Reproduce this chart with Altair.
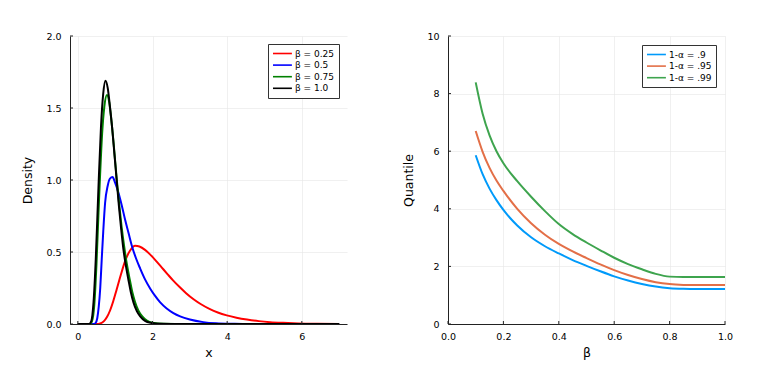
import altair as alt
import pandas as pd

# ---------------- Left panel: densities ----------------
beta_labels = ["β = 0.25", "β = 0.5", "β = 0.75", "β = 1.0"]
beta_colors = ["#FF0000", "#0000FF", "#008000", "#000000"]

x_red = [0, 0.5, 0.6, 0.7, 0.78, 0.86, 0.95, 1.04, 1.15, 1.27, 1.4, 1.535, 1.65, 1.8, 1.94, 2.1, 2.25,
         2.4, 2.55, 2.74, 2.9, 3.1, 3.3, 3.54, 3.75, 3.99, 4.25, 4.53, 4.85, 5.15, 5.5, 5.9, 6.4, 7.0]
y_red = [0, 0, 0.004, 0.02, 0.048, 0.092, 0.16, 0.24, 0.34, 0.44, 0.51, 0.543, 0.538, 0.515, 0.482, 0.437, 0.392,
         0.347, 0.303, 0.253, 0.214, 0.172, 0.137, 0.103, 0.080, 0.060, 0.044, 0.031, 0.020, 0.013, 0.008, 0.004, 0.0015, 0.0]

x_blue = [0, 0.42, 0.47, 0.52, 0.56, 0.60, 0.64, 0.68, 0.73, 0.8, 0.86, 0.93, 1.0, 1.09, 1.18, 1.27, 1.36, 1.45,
          1.56, 1.67, 1.8, 1.94, 2.07, 2.2, 2.38, 2.56, 2.74, 3.0, 3.36, 3.7, 4.2, 4.6, 7.0]
y_blue = [0, 0, 0.005, 0.04, 0.12, 0.25, 0.45, 0.64, 0.84, 0.96, 1.01, 1.02, 0.98, 0.91, 0.82, 0.72, 0.63, 0.54,
          0.455, 0.385, 0.31, 0.245, 0.195, 0.152, 0.108, 0.076, 0.053, 0.031, 0.013, 0.005, 0.0012, 0, 0]

x_green = [0, 0.32, 0.38, 0.44, 0.50, 0.55, 0.59, 0.65, 0.71, 0.78, 0.84, 0.90, 0.97, 1.04, 1.1, 1.17, 1.24,
           1.31, 1.39, 1.46, 1.53, 1.62, 1.72, 1.85, 2.0, 2.3, 2.6, 7.0]
y_green = [0, 0, 0.02, 0.13, 0.42, 0.75, 1.0, 1.32, 1.51, 1.59, 1.54, 1.41, 1.22, 1.01, 0.85, 0.68, 0.54,
           0.42, 0.31, 0.22, 0.155, 0.095, 0.055, 0.024, 0.009, 0.001, 0, 0]

x_black = [0, 0.30, 0.36, 0.42, 0.48, 0.52, 0.56, 0.62, 0.68, 0.74, 0.80, 0.86, 0.92, 0.98, 1.04, 1.1, 1.16,
           1.22, 1.29, 1.36, 1.42, 1.49, 1.58, 1.67, 1.8, 1.95, 2.2, 2.5, 7.0]
y_black = [0, 0, 0.02, 0.15, 0.45, 0.72, 1.0, 1.37, 1.6, 1.69, 1.64, 1.51, 1.36, 1.18, 1.0, 0.82, 0.66,
           0.52, 0.4, 0.3, 0.22, 0.15, 0.09, 0.053, 0.022, 0.008, 0.001, 0, 0]

left_x_ticks = [0, 2, 4, 6]
left_y_ticks = [0, 0.5, 1.0, 1.5, 2.0]

# ---------------- Right panel: quantiles ----------------
level_labels = ["1-α = .9", "1-α = .95", "1-α = .99"]
level_colors = ["#009AFA", "#E36F47", "#3EA44E"]
beta_vals = [0.1, 0.125, 0.15, 0.175, 0.2, 0.25, 0.3, 0.35, 0.4, 0.45, 0.5, 0.55, 0.6, 0.65, 0.7, 0.75, 0.8, 0.85, 0.9, 1.0]
q90 = [5.86, 5.20, 4.70, 4.30, 3.96, 3.42, 3.01, 2.70, 2.45, 2.22, 2.02, 1.83, 1.655, 1.51, 1.39, 1.30, 1.245, 1.222, 1.215, 1.215]
q95 = [6.70, 5.98, 5.42, 4.98, 4.62, 4.00, 3.50, 3.10, 2.78, 2.52, 2.29, 2.07, 1.87, 1.70, 1.56, 1.45, 1.385, 1.358, 1.35, 1.35]
q99 = [8.39, 7.30, 6.55, 6.00, 5.58, 4.96, 4.42, 3.92, 3.47, 3.12, 2.83, 2.56, 2.30, 2.08, 1.90, 1.74, 1.645, 1.63, 1.63, 1.63]

right_x_ticks = [0.0, 0.2, 0.4, 0.6, 0.8, 1.0]
right_y_ticks = [0, 2, 4, 6, 8, 10]

W, H = 277, 288
FONT = "DejaVu Sans"
TICK_COLOR = "#222222"

# Build tables
left_rows = []
for lab, xs, ys in zip(beta_labels, [x_red, x_blue, x_green, x_black], [y_red, y_blue, y_green, y_black]):
    for a, b in zip(xs, ys):
        left_rows.append({"x": a, "density": b, "series": lab})
df_left = pd.DataFrame(left_rows)

right_rows = []
for lab, qs in zip(level_labels, [q90, q95, q99]):
    for a, b in zip(beta_vals, qs):
        right_rows.append({"beta": a, "quantile": b, "level": lab})
df_right = pd.DataFrame(right_rows)


def legend(offset):
    return alt.Legend(
        title=None, orient="top-right", offset=offset,
        symbolType="M-1,0H3.2", symbolSize=81, symbolStrokeWidth=1.6,
        labelFontSize=9, labelFont=FONT, labelColor="black",
        labelOffset=12, padding=4, rowPadding=0.6,
        strokeColor="#333333", fillColor="white", cornerRadius=0,
    )


# Left panel
lx = alt.Scale(domain=[-0.21, 7.21], nice=False, zero=False)
ly = alt.Scale(domain=[0, 2], nice=False)
lcolor = alt.Scale(domain=beta_labels, range=beta_colors)
lxax = alt.Axis(values=left_x_ticks, format="d", title="x", labelFlush=False)
lyax = alt.Axis(values=left_y_ticks, format=".1f", title="Density")

left_layers = []
for lab in beta_labels:
    left_layers.append(
        alt.Chart(df_left).transform_filter(alt.datum.series == lab)
        .mark_line(strokeWidth=2, interpolate="monotone", clip=True).encode(
            x=alt.X("x:Q", scale=lx, axis=lxax),
            y=alt.Y("density:Q", scale=ly, axis=lyax),
            color=alt.Color("series:N", scale=lcolor, legend=legend(8)),
        )
    )

left_xt = alt.Chart(pd.DataFrame({"x": left_x_ticks})).mark_rule(color=TICK_COLOR, strokeWidth=1).encode(
    x=alt.X("x:Q", scale=lx, axis=lxax), y=alt.value(H), y2=alt.value(H - 3))
left_yt = alt.Chart(pd.DataFrame({"density": left_y_ticks})).mark_rule(color=TICK_COLOR, strokeWidth=1).encode(
    y=alt.Y("density:Q", scale=ly, axis=lyax), x=alt.value(0), x2=alt.value(3))

left = alt.layer(*left_layers, left_xt, left_yt).properties(width=W, height=H)

# Right panel
rx = alt.Scale(domain=[0, 1], nice=False)
ry = alt.Scale(domain=[0, 10], nice=False)
rcolor = alt.Scale(domain=level_labels, range=level_colors)
rxax = alt.Axis(values=right_x_ticks, format=".1f", title="β", labelFlush=False)
ryax = alt.Axis(values=right_y_ticks, format="d", title="Quantile")

right_lines = alt.Chart(df_right).mark_line(strokeWidth=2, interpolate="monotone", clip=True).encode(
    x=alt.X("beta:Q", scale=rx, axis=rxax),
    y=alt.Y("quantile:Q", scale=ry, axis=ryax),
    color=alt.Color("level:N", scale=rcolor, legend=legend(9)),
)
right_xt = alt.Chart(pd.DataFrame({"beta": right_x_ticks})).mark_rule(color=TICK_COLOR, strokeWidth=1).encode(
    x=alt.X("beta:Q", scale=rx, axis=rxax), y=alt.value(H), y2=alt.value(H - 3))
right_yt = alt.Chart(pd.DataFrame({"quantile": right_y_ticks})).mark_rule(color=TICK_COLOR, strokeWidth=1).encode(
    y=alt.Y("quantile:Q", scale=ry, axis=ryax), x=alt.value(0), x2=alt.value(3))

right = alt.layer(right_lines, right_xt, right_yt).properties(width=W, height=H)

chart = (
    alt.hconcat(left, right, spacing=55)
    .resolve_scale(color="independent")
    .properties(padding={"left": 13, "top": 23, "right": 5, "bottom": 5})
    .configure(font=FONT)
    .configure_axis(
        labelFontSize=9.5, titleFontSize=12.5, titleFontWeight="normal",
        labelColor="black", titleColor="black", labelFont=FONT, titleFont=FONT,
        domainColor=TICK_COLOR, domainWidth=1, gridColor="#e6e6e6", gridWidth=0.6,
        ticks=False, labelPadding=9, titlePadding=11,
    )
    .configure_axisX(labelPadding=7, titlePadding=6)
    .configure_view(stroke=None)
)

chart.save("out.html", embed_options={"renderer": "svg", "actions": False})
